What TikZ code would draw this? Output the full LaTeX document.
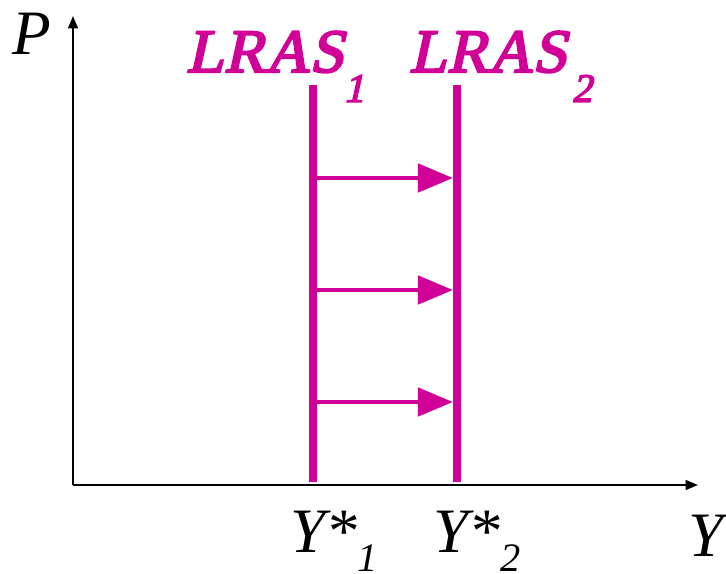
\documentclass[tikz,border=0pt]{standalone}
\usepackage{fontspec}
\setmainfont{Liberation Serif}
\newfontfamily\tagfont{Liberation Serif}[FakeSlant=0.22, FakeBold=3.5]
\usetikzlibrary{arrows.meta,positioning}
\definecolor{lras}{HTML}{D10096}

\newcommand{\lowsub}[2]{\raisebox{-#1}{\fontsize{23}{24}\selectfont #2}}

\begin{document}
\begin{tikzpicture}[x=0.02cm, y=-0.02cm,
  axis/.style={line width=1.1pt, -{Triangle[length=7pt,width=5.5pt]}},
  supply/.style={draw=lras, line width=4.5pt},
  move/.style={draw=lras, line width=2.8pt, -{Triangle[length=20pt,width=16pt]}, shorten >=2.3pt},
  lbl/.style={font=\fontsize{36}{40}\selectfont\itshape, inner sep=0pt},
  tag/.style={text=lras, font=\tagfont\fontsize{35}{38}\selectfont, inner sep=0pt}
]
  \useasboundingbox (0,0) rectangle (726,574);

  % axes
  \coordinate (o) at (73,485);
  \coordinate (ytip) at (73,16);
  \coordinate (xtip) at (698,485);
  \draw[axis] (o) -- (ytip);
  \draw[axis] (o) -- (xtip);
  \node[lbl, anchor=base west] (p) at (12,55) {P};
  \node[lbl, anchor=base west] (y) at (688,556) {Y};

  % long-run supply curves
  \coordinate (a1) at (313,85);
  \coordinate (b1) at (313,482);
  \coordinate (a2) at (457,85);
  \coordinate (b2) at (457,482);
  \draw[supply] (a1) -- (b1);
  \draw[supply] (a2) -- (b2);
  \node[tag, anchor=base west] (lras1) at (186,72) {LRAS\lowsub{17pt}{1}};
  \node[tag, anchor=base west] (lras2) at (409,72) {LRAS\hspace{3pt}\lowsub{17pt}{2}};

  % shift to the right
  \foreach \h [count=\i] in {178,290,402} {
    \coordinate (s\i) at (313,\h);
    \coordinate (e\i) at (457,\h);
    \draw[move] (s\i) -- (e\i);
  }

  \node[lbl, anchor=base west] (ys1) at (290,552) {Y*\lowsub{11pt}{1}};
  \node[lbl, anchor=base west] (ys2) at (433,552) {Y*\lowsub{11pt}{2}};
\end{tikzpicture}
\end{document}
